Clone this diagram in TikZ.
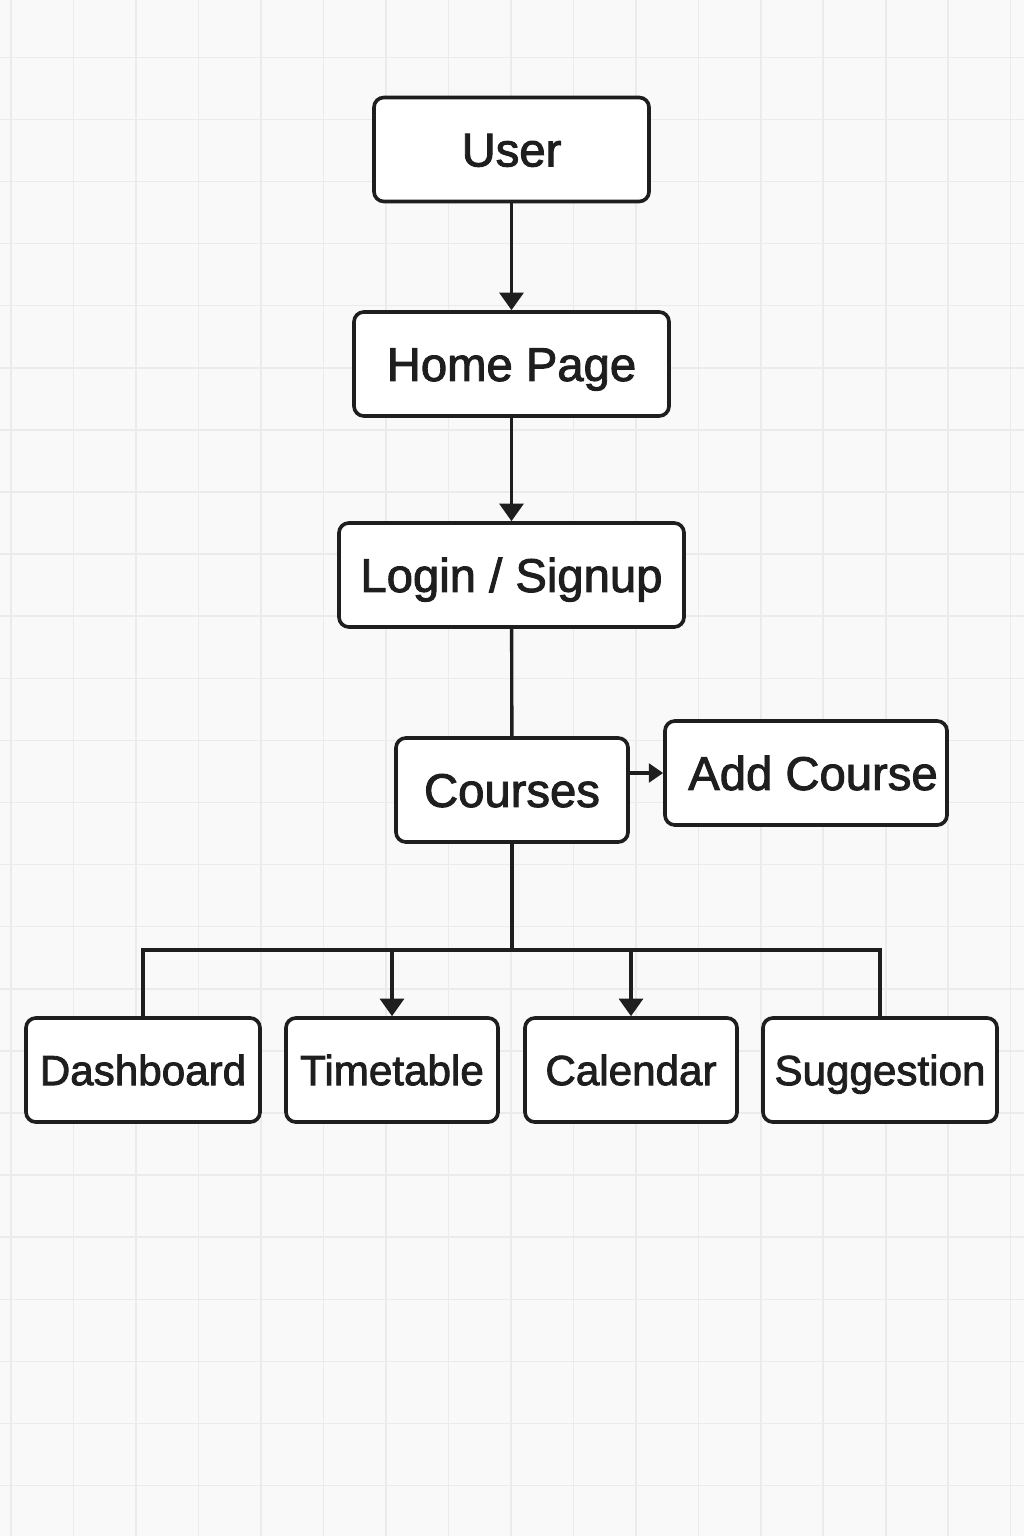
\documentclass[tikz,border=0pt]{standalone}
\usepackage{fontspec}
\setmainfont{Liberation Sans}[RawFeature={embolden=2}]
\usetikzlibrary{arrows.meta}
\definecolor{paper}{HTML}{F9F9F9}
\definecolor{gridline}{HTML}{EBEBEB}
\definecolor{ink}{HTML}{1E1E1E}

\tikzset{
  box/.style={draw=ink, line width=2.6pt, rounded corners=7pt, fill=white,
    inner sep=0pt, text=ink, minimum height=104*0.025cm,
    font=\fontsize{33.6}{40}\selectfont, text height=24.1pt, text depth=0pt},
  smallbox/.style={box, font=\fontsize{30}{36}\selectfont, text height=21.5pt},
  link/.style={draw=ink, line width=2.4pt},
  flow/.style={link, -{Triangle[width=0.6cm,length=0.44cm]}},
  sideflow/.style={link, -{Triangle[width=0.47cm,length=0.36cm]}}
}

\begin{document}
\begin{tikzpicture}[x=0.025cm, y=-0.025cm]
  % paper with a light square grid
  \fill[paper] (0,0) rectangle (1024,1536);
  \useasboundingbox (0,0) rectangle (1024,1536);
  \foreach \i in {0,...,16}
    \draw[gridline, line width=1.1pt] ({11+62.48*\i},0) -- ++(0,1536);
  \foreach \j in {0,...,23}
    \draw[gridline, line width=1.1pt] (0,{57.3+62.1*\j}) -- ++(1024,0);

  % main chain
  \node[box, minimum width=275*0.025cm] (user)    at (511.5,149.5) {User};
  \node[box, minimum width=315*0.025cm] (home)    at (511.5,364)   {Home Page};
  \node[box, minimum width=345*0.025cm] (login)   at (511.5,575)   {Login / Signup};
  \node[box, minimum width=232*0.025cm] (courses) at (512,790)     {Courses};
  \node[box, minimum width=282*0.025cm] (addc)    at (806,773)     {\hspace*{0.35cm}Add Course};

  % pages reached from the courses view
  \node[smallbox, minimum width=234*0.025cm] (dash) at (143,1070) {Dashboard};
  \node[smallbox, minimum width=212*0.025cm] (time) at (392,1070) {Timetable};
  \node[smallbox, minimum width=212*0.025cm] (cal)  at (631,1070) {Calendar};
  \node[smallbox, minimum width=234*0.025cm] (sugg) at (880,1070) {Suggestion};

  \coordinate (bus) at (512,950);

  % connectors
  \draw[flow] (user) -- (home);
  \draw[flow] (home) -- (login);
  \draw[link] (login) -- (courses);
  \draw[sideflow] (courses.east |- addc.west) -- (addc.west);
  \draw[link] (courses.south) -- (bus);
  \draw[link] (dash.north) -- (dash.north |- bus) -- (sugg.north |- bus) -- (sugg.north);
  \draw[flow] (time.north |- bus) -- (time.north);
  \draw[flow] (cal.north |- bus) -- (cal.north);
\end{tikzpicture}
\end{document}
